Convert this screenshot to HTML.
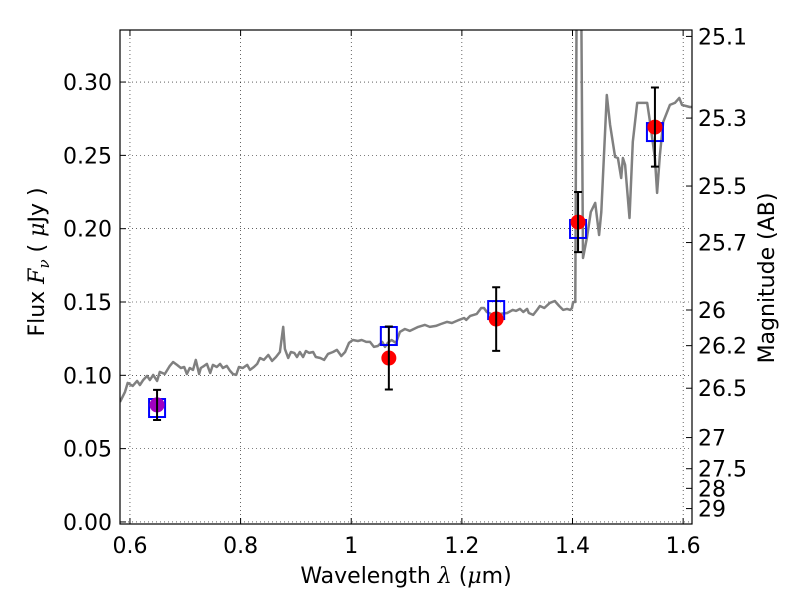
<!DOCTYPE html>
<html><head><meta charset="utf-8"><style>
body{margin:0;background:#fff}
svg{display:block;font-family:"DejaVu Sans","Liberation Sans",sans-serif}
</style></head><body>
<svg id="chart" width="800" height="600"></svg>
<script>
const specWave=[0.582,0.591,0.596,0.605,0.613,0.618,0.624,0.631,0.636,0.642,0.649,0.654,0.663,0.672,0.678,0.685,0.692,0.698,0.703,0.708,0.714,0.719,0.725,0.728,0.734,0.739,0.745,0.750,0.757,0.763,0.768,0.775,0.781,0.786,0.792,0.797,0.804,0.812,0.817,0.824,0.830,0.835,0.842,0.850,0.857,0.864,0.871,0.877,0.880,0.886,0.891,0.897,0.902,0.907,0.913,0.918,0.924,0.931,0.936,0.944,0.951,0.958,0.967,0.974,0.982,0.989,0.996,1.003,1.012,1.019,1.027,1.034,1.041,1.048,1.056,1.061,1.066,1.073,1.081,1.088,1.097,1.106,1.121,1.133,1.142,1.153,1.162,1.173,1.182,1.195,1.204,1.208,1.215,1.227,1.235,1.240,1.245,1.256,1.269,1.282,1.292,1.298,1.305,1.311,1.318,1.321,1.329,1.336,1.341,1.349,1.359,1.368,1.376,1.383,1.390,1.396,1.399,1.401,1.405,1.408,1.415,1.419,1.426,1.433,1.441,1.448,1.452,1.462,1.468,1.477,1.482,1.488,1.491,1.495,1.503,1.509,1.517,1.535,1.540,1.549,1.553,1.558,1.564,1.576,1.585,1.593,1.598,1.612,1.616];
const specFlux=[.0818,.0887,.0948,.0928,.0962,.0934,.0968,.0996,.0968,.1003,.0962,.1023,.1009,.1064,.1091,.1071,.1050,.1057,.1009,.1050,.1037,.1105,.1009,.1050,.1064,.1078,.1016,.1071,.1057,.1078,.1050,.1064,.1030,.1009,.1003,.1057,.1050,.1071,.1037,.1057,.1078,.1118,.1105,.1139,.1098,.1125,.1159,.1330,.1180,.1118,.1159,.1153,.1125,.1159,.1125,.1166,.1153,.1159,.1125,.1118,.1105,.1146,.1159,.1173,.1132,.1159,.1221,.1241,.1234,.1241,.1228,.1228,.1194,.1200,.1228,.1194,.1221,.1241,.1221,.1296,.1316,.1303,.1330,.1344,.1330,.1337,.1350,.1364,.1357,.1378,.1391,.1378,.1405,.1419,.1459,.1459,.1432,.1412,.1419,.1425,.1446,.1439,.1453,.1432,.1453,.1425,.1412,.1446,.1473,.1459,.1494,.1507,.1473,.1446,.1453,.1446,.1459,.1500,.1500,.40,.40,.1800,.1937,.2114,.2176,.1957,.2114,.2912,.2708,.2489,.2482,.2346,.2482,.2435,.2073,.2592,.2858,.2858,.2728,.2482,.2244,.2503,.2728,.2844,.2858,.2892,.2844,.2830,.2830];
const photWave=[0.649,1.068,1.262,1.410,1.549];
const photFlux=[0.0798,0.1118,0.1384,0.2045,0.2693];
const photErr=[0.0103,0.0215,0.0217,0.0205,0.0270];
const modelFlux=[0.0777,0.1268,0.1445,0.1998,0.2659];
const xTicks=[0.6,0.8,1.0,1.2,1.4,1.6];
const xTickLabels=["0.6","0.8","1","1.2","1.4","1.6"];
const yTicks=[0,0.05,0.10,0.15,0.20,0.25,0.30];
const yTickLabels=["0.00","0.05","0.10","0.15","0.20","0.25","0.30"];
const magTicks=[25.1,25.3,25.5,25.7,26,26.2,26.5,27,27.5,28,29];
const magTickLabels=["25.1","25.3","25.5","25.7","26","26.2","26.5","27","27.5","28","29"];

const L=120,R=692,T=30,B=524;
const X0=0.582,X1=1.616,Y0=-0.0014,Y1=0.3355;
const sx=v=>L+(v-X0)/(X1-X0)*(R-L);
const sy=v=>B-(v-Y0)/(Y1-Y0)*(B-T);
const svg=document.getElementById('chart');
const NS='http://www.w3.org/2000/svg';
function mk(tag,attrs,parent){const e=document.createElementNS(NS,tag);for(const k in attrs)e.setAttribute(k,attrs[k]);(parent||svg).appendChild(e);return e;}

const defs=mk('defs',{});const cp=mk('clipPath',{id:'clip'},defs);mk('rect',{x:L,y:T,width:R-L,height:B-T},cp);

xTicks.forEach((v,i)=>{
 const g=mk('line',{x1:sx(v),x2:sx(v),y1:T,y2:B,stroke:'#000','stroke-width':0.6,'stroke-dasharray':'1,3'});
 
 
 mk('line',{x1:sx(v),x2:sx(v),y1:B,y2:B-6,stroke:'#000'});
 mk('line',{x1:sx(v),x2:sx(v),y1:T,y2:T+6,stroke:'#000'});
 const lb=mk('text',{x:sx(v),y:B+29,'text-anchor':'middle','font-size':22});
 lb.textContent=xTickLabels[i];
 
 
});
yTicks.forEach((v,i)=>{
 const g=mk('line',{x1:L,x2:R,y1:sy(v),y2:sy(v),stroke:'#000','stroke-width':0.6,'stroke-dasharray':'1,3'});
 
 
 mk('line',{x1:L,x2:L+6,y1:sy(v),y2:sy(v),stroke:'#000'});
 const lb=mk('text',{x:L-8,y:sy(v)+8,'text-anchor':'end','font-size':22});
 lb.textContent=yTickLabels[i];
 
 
});
magTicks.forEach((m,i)=>{
 const f=Math.pow(10,(23.9-m)/2.5);
 mk('line',{x1:R,x2:R-6,y1:sy(f),y2:sy(f),stroke:'#000'});
 const lb=mk('text',{x:R+6,y:sy(f)+8,'font-size':22});
 lb.textContent=magTickLabels[i];
 
 
});

const g=mk('g',{'clip-path':'url(#clip)'});
const pts=specWave.map((w,i)=>sx(w).toFixed(1)+','+sy(specFlux[i]).toFixed(1)).join(' ');
const sp=mk('polyline',{points:pts,fill:'none',stroke:'#808080','stroke-width':2.5,'stroke-linejoin':'round'},g);



photWave.forEach((w,i)=>{
 const x=sx(w);
 const bx=mk('rect',{x:x-8,y:sy(modelFlux[i])-9,width:16,height:18,fill:'none',stroke:'#0000ff','stroke-width':2},g);
 
 
 const c=mk('circle',{cx:x,cy:sy(photFlux[i]),r:7.5,fill:i===0?'#a000c0':'#ff0000'},g);
 
 
 const yt=sy(photFlux[i]+photErr[i]),yb=sy(photFlux[i]-photErr[i]);
 const e=mk('path',{d:`M${x},${yt}V${yb}M${x-4},${yt}H${x+4}M${x-4},${yb}H${x+4}`,stroke:'#000','stroke-width':2,fill:'none'},g);
 
 
});

const fr=mk('rect',{x:L,y:T,width:R-L,height:B-T,fill:'none',stroke:'#000','stroke-width':1.2});



const xl=mk('text',{x:406,y:583,'text-anchor':'middle','font-size':22});
xl.innerHTML='Wavelength  <tspan font-style="italic" font-family="DejaVu Serif, serif">λ</tspan> (<tspan font-style="italic" font-family="DejaVu Serif, serif">μ</tspan>m)';


const yl=mk('text',{x:0,y:0,'text-anchor':'middle','font-size':22,transform:'translate(44,262) rotate(-90)'});
yl.innerHTML='Flux  <tspan font-style="italic" font-family="DejaVu Serif, serif">F</tspan><tspan font-style="italic" font-size="15" dy="5" font-family="DejaVu Serif, serif">ν</tspan><tspan dy="-5">  (  </tspan><tspan font-style="italic" font-family="DejaVu Serif, serif">μ</tspan>Jy )';


const rl=mk('text',{x:0,y:0,'text-anchor':'middle','font-size':22,transform:'translate(774,278) rotate(-90)'});
rl.textContent='Magnitude (AB)';


</script>
</body></html>
